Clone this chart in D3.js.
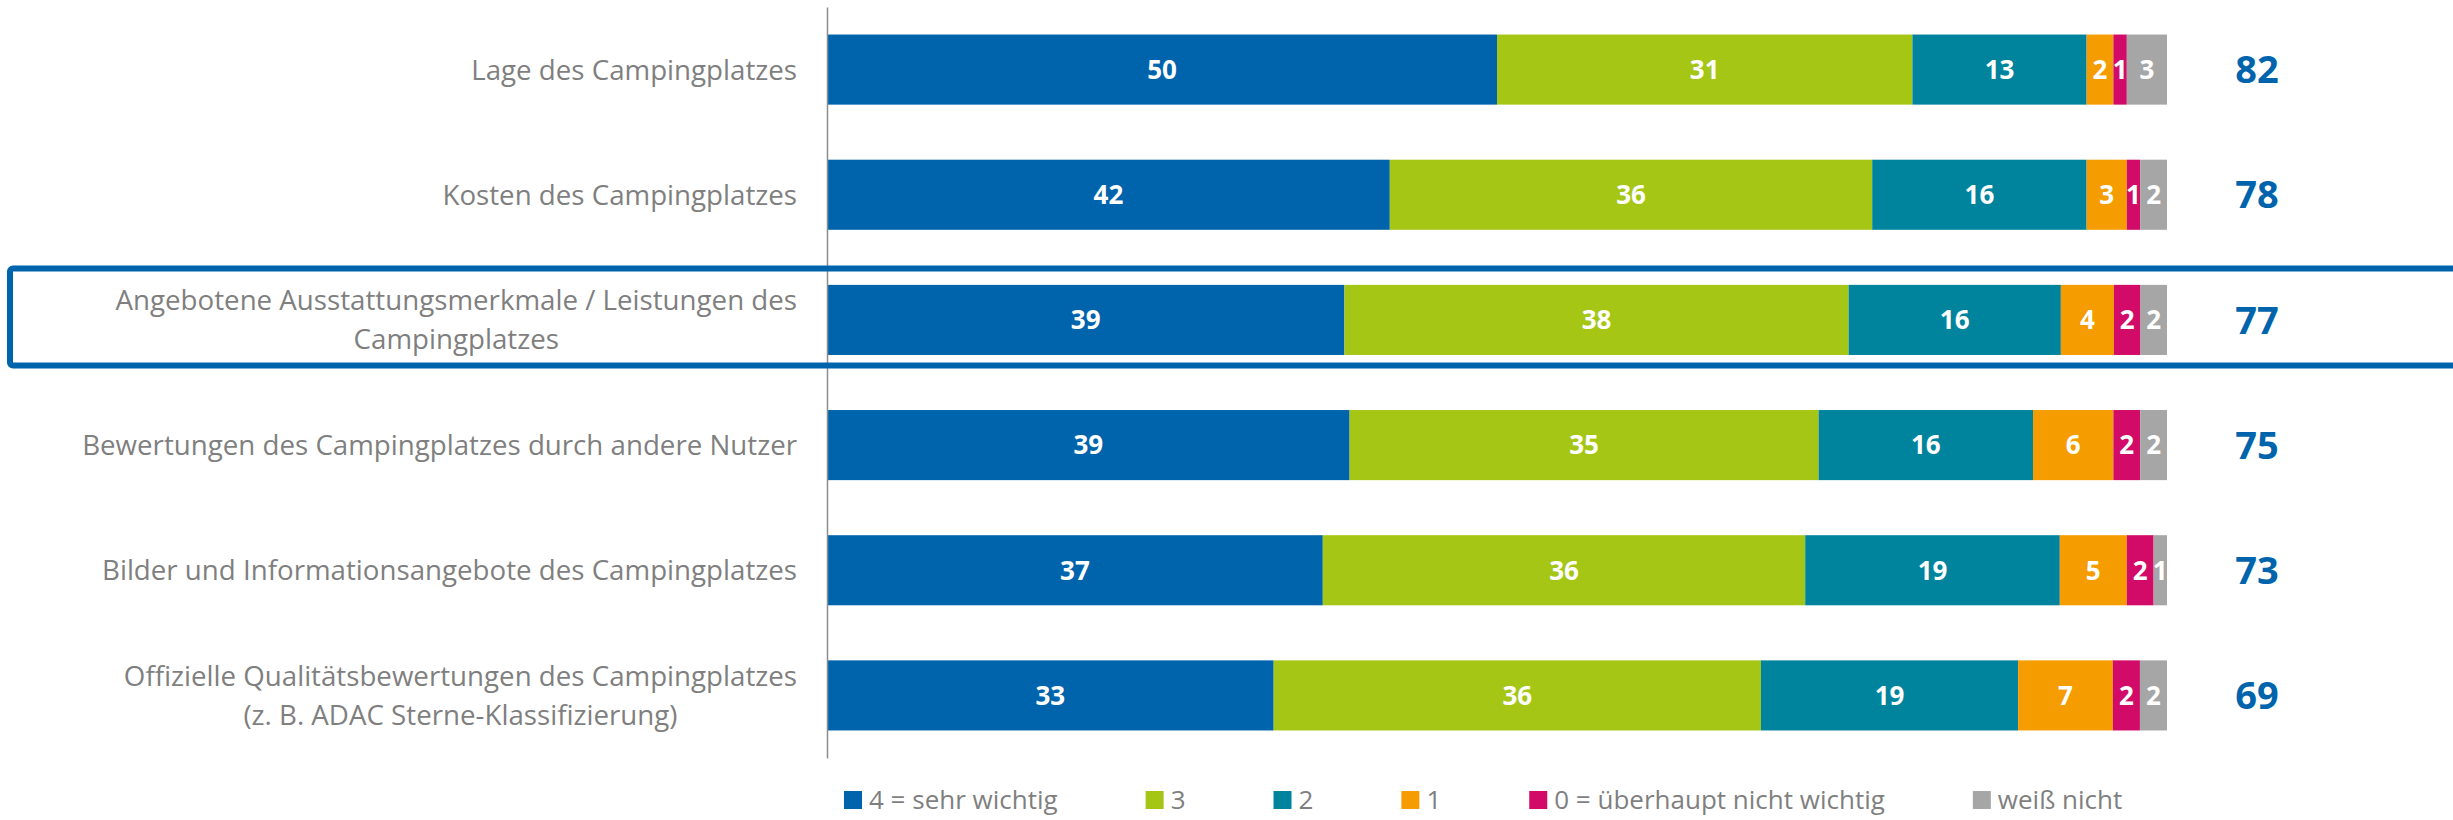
<!DOCTYPE html>
<html>
<head>
<meta charset="utf-8">
<script src="https://cdn.jsdelivr.net/npm/d3@7"></script>
<style>
  body { margin: 0; background: #fff; }
  svg { display: block; }
  text { font-family: "Open Sans", "Noto Sans", sans-serif; }
</style>
</head>
<body>
<svg id="chart" width="2453" height="820"></svg>
<script>
// Wichtigkeit verschiedener Kriterien bei der Wahl des Campingplatzes (Angaben in %)
const categories = [
  "Lage des Campingplatzes",
  "Kosten des Campingplatzes",
  "Angebotene Ausstattungsmerkmale / Leistungen des\nCampingplatzes",
  "Bewertungen des Campingplatzes durch andere Nutzer",
  "Bilder und Informationsangebote des Campingplatzes",
  "Offizielle Qualitätsbewertungen des Campingplatzes\n(z. B. ADAC Sterne-Klassifizierung)"
];
const seriesNames = ["4 = sehr wichtig", "3", "2", "1", "0 = überhaupt nicht wichtig", "weiß nicht"];
const sehrWichtig   = [50, 42, 39, 39, 37, 33];
const wert3         = [31, 36, 38, 35, 36, 36];
const wert2         = [13, 16, 16, 16, 19, 19];
const wert1         = [2, 3, 4, 6, 5, 7];
const nichtWichtig  = [1, 1, 2, 2, 2, 2];
const weissNicht    = [3, 2, 2, 2, 1, 2];
const topTwo        = [82, 78, 77, 75, 73, 69];   // Top-2-Box (4 + 3)
const highlighted   = categories[2];

const seriesValues = [sehrWichtig, wert3, wert2, wert1, nichtWichtig, weissNicht];
const colors = ["#0064ad", "#a5c615", "#00849e", "#f59c00", "#d20a68", "#a6a6a6"];

const rows = categories.map((c, i) => {
  const r = { category: c };
  seriesNames.forEach((s, j) => { r[s] = seriesValues[j][i]; });
  return r;
});

const svg = d3.select("#chart");

const x = d3.scaleLinear().domain([0, 1]).range([827, 2167]);
const y = d3.scaleBand().domain(categories).range([7, 758])
  .paddingInner(0.44).paddingOuter(0.22);
const color = d3.scaleOrdinal().domain(seriesNames).range(colors);

// each row is shown as a share of its own total (100 %)
const stacked = d3.stack().keys(seriesNames).offset(d3.stackOffsetExpand)(rows);

const layers = svg.append("g").selectAll("g")
  .data(stacked).join("g")
  .attr("fill", d => color(d.key));

layers.selectAll("rect")
  .data(d => d.map(p => Object.assign(p, { key: d.key })))
  .join("rect")
  .attr("x", d => x(d[0]))
  .attr("width", d => x(d[1]) - x(d[0]))
  .attr("y", d => y(d.data.category))
  .attr("height", y.bandwidth());

// value labels inside the segments
svg.append("g").selectAll("g")
  .data(stacked).join("g")
  .selectAll("text")
  .data(d => d)
  .join("text")
  .attr("x", d => (x(d[0]) + x(d[1])) / 2)
  .attr("y", d => y(d.data.category) + y.bandwidth() / 2)
  .attr("dy", "0.36em")
  .attr("text-anchor", "middle")
  .attr("fill", "#fff")
  .attr("font-weight", 700)
  .attr("font-size", 26)
  .text(d => d.data[d.key]);

// vertical axis line
const axis = d3.axisLeft(y).tickSize(0).tickFormat("");
svg.append("g")
  .attr("transform", "translate(827,0)")
  .call(axis)
  .call(g => g.select(".domain").attr("stroke", "#8c8c8c").attr("stroke-width", 1.5));

// category labels: block right-aligned, lines centred within the block
const labelRight = 797;
const lineGap = 39;
categories.forEach(c => {
  const lines = c.split("\n");
  const cy = y(c) + y.bandwidth() / 2;
  const g = svg.append("g");
  const texts = lines.map((ln, k) => g.append("text")
    .attr("y", cy + (k - (lines.length - 1) / 2) * lineGap)
    .attr("dy", "0.36em")
    .attr("fill", "#7f7f7f")
    .attr("font-size", 27.7)
    .attr("text-anchor", "middle")
    .text(ln));
  const w = d3.max(texts, t => t.node().getComputedTextLength());
  texts.forEach(t => t.attr("x", labelRight - w / 2));
});

// Top-2 values at the right
svg.append("g").selectAll("text")
  .data(categories).join("text")
  .attr("x", 2257)
  .attr("y", c => y(c) + y.bandwidth() / 2)
  .attr("dy", "0.36em")
  .attr("text-anchor", "middle")
  .attr("fill", "#0064ad")
  .attr("font-weight", 700)
  .attr("font-size", 38)
  .text((c, i) => topTwo[i]);

// highlight frame around one criterion
svg.append("rect")
  .attr("x", 10)
  .attr("y", y(highlighted) + y.bandwidth() / 2 - 51.5)
  .attr("width", 2470)
  .attr("height", 97)
  .attr("rx", 3)
  .attr("fill", "none")
  .attr("stroke", "#0064ad")
  .attr("stroke-width", 6);

// legend
const legend = svg.append("g").attr("transform", "translate(844,800)");
let lx = 0;
seriesNames.forEach((s, i) => {
  const item = legend.append("g").attr("transform", `translate(${lx},0)`);
  item.append("rect").attr("x", 0).attr("y", -9).attr("width", 18).attr("height", 18)
    .attr("fill", color(s));
  const t = item.append("text").attr("x", 25).attr("dy", "0.36em")
    .attr("fill", "#7f7f7f").attr("font-size", 26).text(s);
  lx += 25 + t.node().getComputedTextLength() + 88;
});
</script>
</body>
</html>
